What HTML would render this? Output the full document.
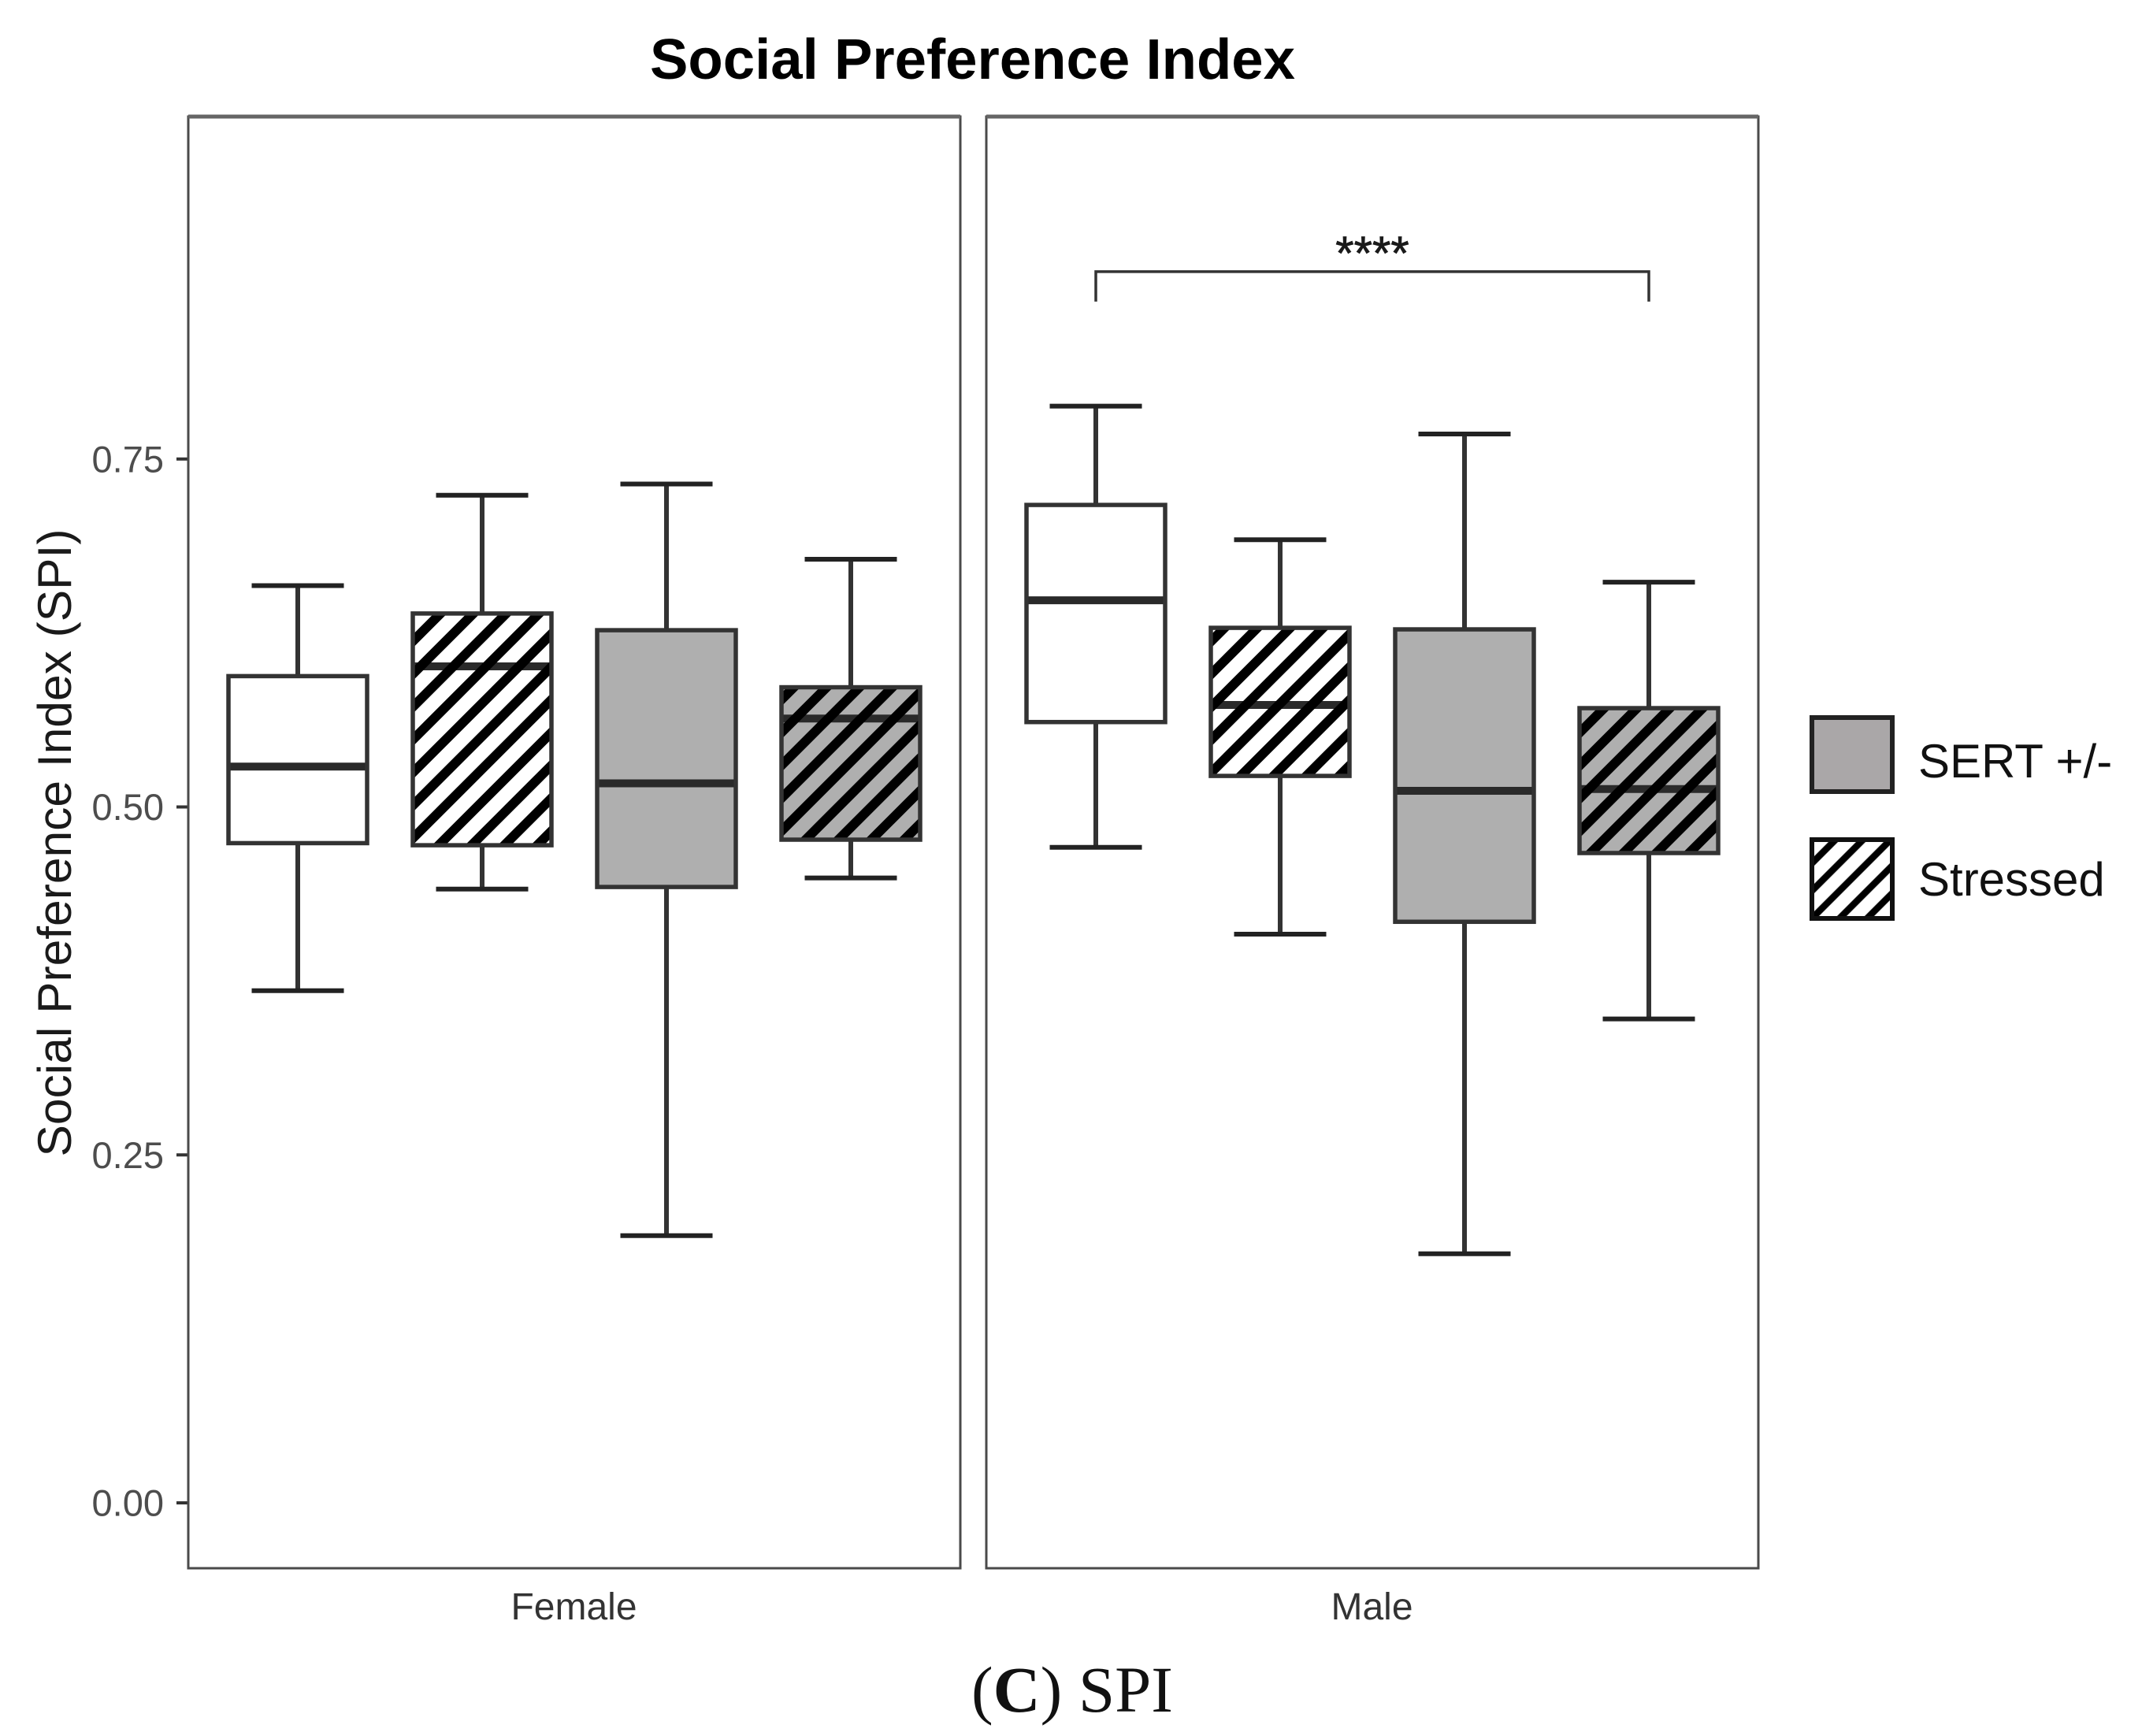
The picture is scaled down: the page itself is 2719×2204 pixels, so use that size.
<!DOCTYPE html>
<html lang="en">
<head>
<meta charset="utf-8">
<title>Social Preference Index</title>
<style>
  html, body { margin: 0; padding: 0; background: #ffffff; }
  svg { display: block; }
  text { font-family: "Liberation Sans", sans-serif; }
</style>
</head>
<body>
<svg id="chart" xmlns="http://www.w3.org/2000/svg" width="2719" height="2204" viewBox="0 0 2719 2204">
  <rect x="0" y="0" width="2719" height="2204" fill="#ffffff"/>
  <defs id="defs">
    <pattern id="legend-hatch" patternUnits="userSpaceOnUse" width="24.75" height="35" patternTransform="translate(3396,0) rotate(45)">
      <line x1="0" y1="0" x2="0" y2="35" stroke="#000000" stroke-width="8.5"/>
      <line x1="24.75" y1="0" x2="24.75" y2="35" stroke="#000000" stroke-width="8.5"/>
    </pattern>
  </defs>
  <text x="1234.5" y="100" text-anchor="middle" font-size="72.6" font-weight="700" fill="#000000">Social Preference Index</text>
  <text transform="translate(90,1070) rotate(-90)" text-anchor="middle" font-size="60.5" fill="#1a1a1a">Social Preference Index (SPI)</text>
  <g id="axes"></g>
  <g id="marks"></g>
  <g id="panels"></g>
  <g>
    <path id="bracket" fill="none" stroke="#333333" stroke-width="3.5"/>
    <text id="stars" text-anchor="middle" font-size="60" fill="#1a1a1a" stroke="#1a1a1a" stroke-width="0.8">****</text>
  </g>
  <g>
    <g>
      <rect x="2300" y="911" width="102" height="94" fill="#aaa7a8" stroke="#222222" stroke-width="6"/>
      <text x="2435" y="987" font-size="60" fill="#111111">SERT +/-</text>
    </g>
    <g>
      <rect x="2300" y="1066" width="102" height="100" fill="#ffffff"/>
      <rect x="2300" y="1066" width="102" height="100" fill="url(#legend-hatch)"/>
      <rect x="2300" y="1066" width="102" height="100" fill="none" stroke="#111111" stroke-width="6"/>
      <text x="2435" y="1137" font-size="60" fill="#111111">Stressed</text>
    </g>
  </g>
  <text x="1233" y="2173" font-size="83" fill="#111111" style="font-family:'Liberation Serif',serif">(<tspan font-weight="700">C</tspan>) SPI</text>
</svg>
<script>
// Chart data
const facets = ["Female", "Male"];
const groups = ["Control", "Stressed", "SERT", "SERT-Stressed"];
const groupFilled = [false, false, true, true];
const groupHatched = [false, true, false, true];
const yTicks = [0, 0.25, 0.5, 0.75];
const yTickLabels = ["0.00", "0.25", "0.50", "0.75"];

const femaleWhiskerLow = [0.368, 0.441, 0.192, 0.449];
const femaleQ1 = [0.474, 0.4725, 0.4425, 0.4765];
const femaleMedian = [0.529, 0.601, 0.517, 0.5635];
const femaleQ3 = [0.594, 0.639, 0.627, 0.586];
const femaleWhiskerHigh = [0.659, 0.724, 0.732, 0.678];

const maleWhiskerLow = [0.471, 0.4086, 0.179, 0.3477];
const maleQ1 = [0.561, 0.5223, 0.4175, 0.4669];
const maleMedian = [0.6485, 0.5733, 0.5116, 0.5129];
const maleQ3 = [0.717, 0.6287, 0.6276, 0.571];
const maleWhiskerHigh = [0.788, 0.692, 0.768, 0.6615];

const significanceLevel = 0.8846;
const significanceDrop = 0.0215;
const significanceFrom = 0;
const significanceTo = 3;

const facetData = [
  { low: femaleWhiskerLow, q1: femaleQ1, med: femaleMedian, q3: femaleQ3, high: femaleWhiskerHigh },
  { low: maleWhiskerLow, q1: maleQ1, med: maleMedian, q3: maleQ3, high: maleWhiskerHigh }
];

// Axis functions
const NS = "http://www.w3.org/2000/svg";
const panelTop = 148, panelBottom = 1991, panelWidth = 980;
const panelLeft = function (f) { return 239 + f * 1013; };
const y0 = 1908, yPerUnit = 1767;
function yScale(v) { return y0 - yPerUnit * v; }
function xScale(f, g) { return panelLeft(f) + 139 + g * 234; }
const boxWidth = 176, capWidth = 117, hatchSpacing = 41.7;
function hatchOrigin(f) { return f === 0 ? 1630 : 2560; }

function make(parent, tag, attrs) {
  const n = document.createElementNS(NS, tag);
  for (const k in attrs) n.setAttribute(k, attrs[k]);
  parent.appendChild(n);
  return n;
}

const axes = document.getElementById("axes");
const marks = document.getElementById("marks");
const panels = document.getElementById("panels");
const defs = document.getElementById("defs");

// Y ticks and labels
yTicks.forEach(function (t, i) {
  const tick = make(axes, "line", { x1: 224, x2: 239, y1: yScale(t), y2: yScale(t), stroke: "#333333", "stroke-width": 4 });
  
  
  const label = make(axes, "text", { x: 208, y: yScale(t) + 16.5, "text-anchor": "end", "font-size": 47, fill: "#4d4d4d" });
  label.textContent = yTickLabels[i];
  
  
});

// Facet labels
facets.forEach(function (name, f) {
  const label = make(axes, "text", { x: panelLeft(f) + panelWidth / 2 - 0.5, y: 2056, "text-anchor": "middle", "font-size": 48, fill: "#333333" });
  label.textContent = name;
  
  
});

// Boxes
facetData.forEach(function (d, f) {
  groups.forEach(function (gName, g) {
    const cx = xScale(f, g);
    const left = cx - boxWidth / 2;
    const right = cx + boxWidth / 2;
    const top = yScale(d.q3[g]);
    const bottom = yScale(d.q1[g]);
    const ink = "#333333";

    const group = make(marks, "g", {});
    
    

    const whisker = make(group, "path", {
      d: "M" + cx + " " + yScale(d.high[g]) + "V" + top + "M" + cx + " " + bottom + "V" + yScale(d.low[g]),
      stroke: ink, "stroke-width": 6, fill: "none"
    });
    
    

    [d.high[g], d.low[g]].forEach(function (v) {
      const cap = make(group, "line", { x1: cx - capWidth / 2, x2: cx + capWidth / 2, y1: yScale(v), y2: yScale(v), stroke: "#222222", "stroke-width": 6 });
      
      
    });

    const fill = make(group, "rect", { x: left, y: top, width: boxWidth, height: bottom - top, fill: groupFilled[g] ? "#afafaf" : "#ffffff" });
    
    

    const median = make(group, "line", { x1: left, x2: right, y1: yScale(d.med[g]), y2: yScale(d.med[g]), stroke: "#2a2a2a", "stroke-width": 10 });
    
    

    if (groupHatched[g]) {
      const clipId = "clip-" + f + "-" + g;
      const clip = make(defs, "clipPath", { id: clipId });
      make(clip, "rect", { x: left, y: top, width: boxWidth, height: bottom - top });
      const hatch = make(group, "g", { "clip-path": "url(#" + clipId + ")" });
      
      
      // Stripes follow x + y = constant, repeating across the whole facet
      const minC = left + top, maxC = right + bottom;
      let c = hatchOrigin(f) + Math.ceil((minC - hatchOrigin(f)) / hatchSpacing) * hatchSpacing;
      for (; c <= maxC + hatchSpacing; c += hatchSpacing) {
        make(hatch, "line", { x1: left - 20, y1: c - left + 20, x2: right + 20, y2: c - right - 20, stroke: "#000000", "stroke-width": 12 });
      }
    }

    const border = make(group, "rect", { x: left, y: top, width: boxWidth, height: bottom - top, fill: "none", stroke: ink, "stroke-width": 5.5 });
    
    
  });

  const frame = make(panels, "rect", { x: panelLeft(f), y: panelTop, width: panelWidth, height: panelBottom - panelTop, fill: "none", stroke: "#4a4a4a", "stroke-width": 3 });
  
  
  const topEdge = make(panels, "line", { x1: panelLeft(f), x2: panelLeft(f) + panelWidth, y1: panelTop, y2: panelTop, stroke: "#666666", "stroke-width": 5 });
  
  
});

// Significance bracket (male panel)
const bx1 = xScale(1, significanceFrom), bx2 = xScale(1, significanceTo);
const bracketTop = yScale(significanceLevel);
const bracketBottom = yScale(significanceLevel - significanceDrop);
document.getElementById("bracket").setAttribute("d", "M" + bx1 + " " + bracketBottom + "V" + bracketTop + "H" + bx2 + "V" + bracketBottom);
const stars = document.getElementById("stars");
stars.setAttribute("x", (bx1 + bx2) / 2);
stars.setAttribute("y", bracketTop - 3);
</script>
</body>
</html>
